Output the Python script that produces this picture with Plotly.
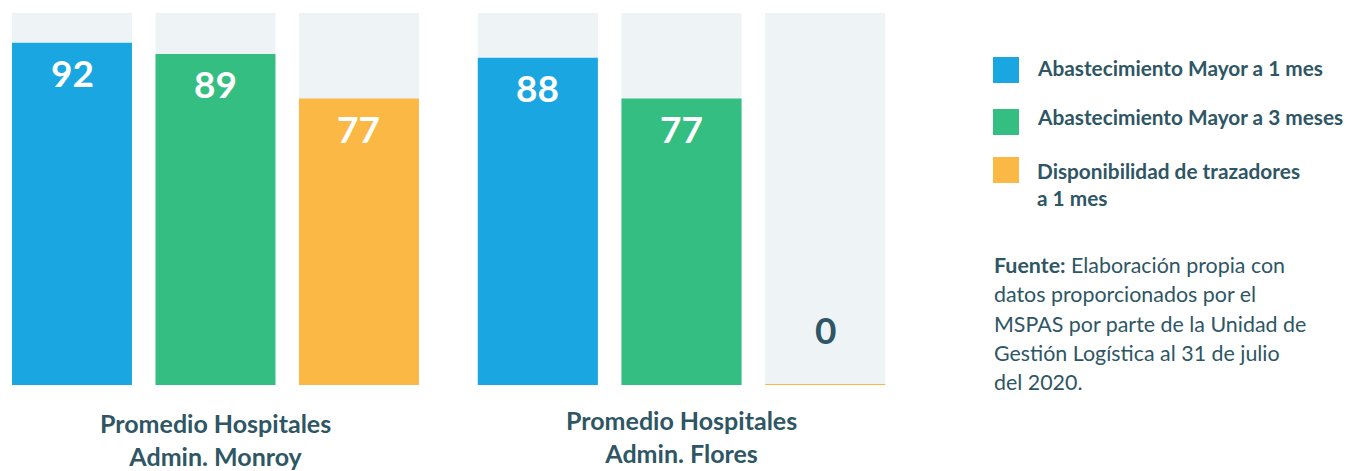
import plotly.graph_objects as go

# Page body has an 8px margin; work in reference pixel coords and subtract it.
OFF = 8
W, H = 1354 - OFF, 471 - OFF

series_names = ["Abastecimiento Mayor a 1 mes", "Abastecimiento Mayor a 3 meses",
                "Disponibilidad de trazadores a 1 mes"]
series_colors = ["#1AA7E1", "#35BE82", "#FBB845"]
categories = ["Mayor a 1 mes", "Mayor a 3 meses", "Trazadores 1 mes"]
group_titles = ["Promedio Hospitales<br>Admin. Monroy", "Promedio Hospitales<br>Admin. Flores"]
monroy_values = [92, 89, 77]
flores_values = [88, 77, 0]
groups = [monroy_values, flores_values]
full_scale = [100, 100, 100]

BG = "#EEF3F6"
TXT = "#2E5664"
FONT = "Lato"


def px(x):
    return (x - OFF) / W


def py(y):
    return 1 - (y - OFF) / H


fig = go.Figure()
axes = [("x", "y"), ("x2", "y2")]
title_tops = [407, 404]
for gi, vals in enumerate(groups):
    xa, ya = axes[gi]
    fig.add_trace(go.Bar(x=categories, y=full_scale, marker=dict(color=BG, line=dict(width=0)),
                         xaxis=xa, yaxis=ya, showlegend=False, hoverinfo="skip"))
    for si in range(3):
        v = vals[si]
        fig.add_trace(go.Bar(x=[categories[si]], y=[v], name=series_names[si],
                             marker=dict(color=series_colors[si],
                                         line=dict(color=series_colors[si], width=2 if v == 0 else 0)),
                             xaxis=xa, yaxis=ya, showlegend=False))
        if v == 0:
            fig.add_annotation(x=categories[si], y=v, xref=xa, yref=ya, text=f"<b>{v}</b>",
                               showarrow=False, yanchor="bottom", yshift=31,
                               font=dict(family=FONT, size=37, color=TXT))
        else:
            fig.add_annotation(x=categories[si], y=v, xref=xa, yref=ya, text=f"<b>{v}</b>",
                               showarrow=False, yanchor="top", yshift=-5,
                               font=dict(family=FONT, size=37, color="white"))
    # group label under the middle bar
    fig.add_annotation(x=categories[1], xref=xa, yref="paper", y=py(title_tops[gi]),
                       yanchor="top", xanchor="center", showarrow=False, borderpad=0,
                       text="<b>" + group_titles[gi] + "</b>",
                       font=dict(family=FONT, size=25, color=TXT))

ydom = [py(385), py(13)]
axis_common = dict(showgrid=False, zeroline=False, showline=False, ticks="", showticklabels=False)
fig.update_layout(
    width=W, height=H, barmode="overlay", bargap=0.164,
    paper_bgcolor="white", plot_bgcolor="white",
    margin=dict(l=0, r=0, t=0, b=0),
    font=dict(family=FONT, color=TXT),
    xaxis=dict(domain=[0, px(431)], range=[-0.446, 2.502], **axis_common),
    xaxis2=dict(domain=[px(466), px(897)], range=[-0.5, 2.5], **axis_common),
    yaxis=dict(domain=ydom, range=[0, 100], **axis_common),
    yaxis2=dict(domain=ydom, range=[0, 100], anchor="x2", **axis_common),
    showlegend=False,
)

# Custom legend
legend_rows = [(57, [(68, series_names[0])]),
               (109, [(117, series_names[1])]),
               (157, [(171, "Disponibilidad de trazadores"), (197, "a 1 mes")])]
for i, (top, lines) in enumerate(legend_rows):
    fig.add_shape(type="rect", xref="paper", yref="paper",
                  x0=px(993), x1=px(1019), y0=py(top), y1=py(top + 26),
                  fillcolor=series_colors[i], line=dict(width=0))
    for cy, t in lines:
        fig.add_annotation(xref="paper", yref="paper", x=px(1035), y=py(cy),
                           xanchor="left", yanchor="middle", text=f"<b>{t}</b>", showarrow=False,
                           font=dict(family=FONT, size=20.8, color=TXT))

source_lines = ["<b>Fuente:</b> Elaboración propia con", "datos proporcionados por el",
                "MSPAS por parte de la Unidad de", "Gestión Logística al 31 de julio", "del 2020."]
for k, t in enumerate(source_lines):
    fig.add_annotation(xref="paper", yref="paper", x=px(992), y=py(265 + k * 29.3),
                       xanchor="left", yanchor="middle", text=t, showarrow=False,
                       font=dict(family=FONT, size=21.4, color=TXT))

fig.write_html("out.html")
